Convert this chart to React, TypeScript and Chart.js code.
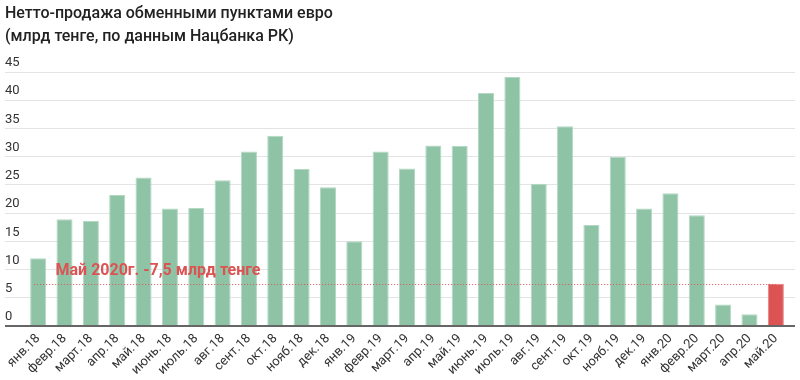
import React, { useEffect, useRef } from "react";
import { Chart, registerables } from "chart.js";

Chart.register(...registerables);

const titleLines = ["Нетто-продажа обменными пунктами евро", "(млрд тенге, по данным Нацбанка РК)"];
const categories = [
  "янв.18", "февр.18", "март.18", "апр.18", "май.18", "июнь.18", "июль.18", "авг.18", "сент.18", "окт.18", "нояб.18", "дек.18",
  "янв.19", "февр.19", "март.19", "апр.19", "май.19", "июнь.19", "июль.19", "авг.19", "сент.19", "окт.19", "нояб.19", "дек.19",
  "янв.20", "февр.20", "март.20", "апр.20", "май.20",
];
const values = [
  12.0, 18.9, 18.6, 23.2, 26.3, 20.8, 20.9, 25.8, 30.9, 33.7, 27.8, 24.6,
  15.0, 30.9, 27.9, 32.0, 31.9, 41.3, 44.1, 25.2, 35.4, 17.9, 30.0, 20.8,
  23.5, 19.6, 3.8, 2.1, 7.5,
];
const highlightIndex = 28;
const refValue = 7.5;
const refLabel = "Май 2020г. -7,5 млрд тенге";
const yMin = 0;
const yMax = 45;
const yStep = 5;

const GREEN = "#8fc3a6";
const GREEN_BORDER = "#b3d9c3";
const RED = "#dc5353";
const RED_BORDER = "#e88080";
const GRID = "#e4e4e4";
const AXIS = "#666666";

const refPlugin = {
  id: "refLine",
  afterDatasetsDraw(chart: any) {
    const { ctx, scales } = chart;
    const x = scales.x;
    const y = scales.y;
    const py = Math.round(y.getPixelForValue(refValue)) + 0.5;
    const x0 = x.getPixelForValue(0) - 4;
    const x1 = x.getPixelForValue(categories.length - 1);
    ctx.save();
    ctx.strokeStyle = RED;
    ctx.lineWidth = 1;
    ctx.setLineDash([1, 2]);
    ctx.beginPath();
    ctx.moveTo(x0, py);
    ctx.lineTo(x1, py);
    ctx.stroke();
    ctx.setLineDash([]);
    ctx.fillStyle = RED;
    ctx.font = "bold 16px Roboto";
    ctx.textAlign = "left";
    ctx.textBaseline = "alphabetic";
    ctx.fillText(refLabel, x.getPixelForValue(1) - 9, py - 10);
    ctx.restore();
  },
};

const gridColor = (c: any) => (c.tick && c.tick.value === 0 ? AXIS : GRID);
const gridWidth = (c: any) => (c.tick && c.tick.value === 0 ? 2 : 1);

export default function App() {
  const ref = useRef<HTMLCanvasElement | null>(null);
  useEffect(() => {
    if (!ref.current) return;
    const chart = new Chart(ref.current, {
      type: "bar",
      data: {
        labels: categories,
        datasets: [
          {
            data: values,
            backgroundColor: values.map((_, i) => (i === highlightIndex ? RED : GREEN)),
            borderColor: values.map((_, i) => (i === highlightIndex ? RED_BORDER : GREEN_BORDER)),
            borderWidth: 1,
            categoryPercentage: 1,
            barPercentage: 0.61,
          },
        ],
      },
      options: {
        animation: false,
        responsive: false,
        layout: { padding: { left: 5, right: 5, top: 0, bottom: 0 } },
        plugins: {
          legend: { display: false },
          tooltip: { enabled: false },
          title: {
            display: true,
            text: titleLines,
            align: "start",
            color: "#222222",
            font: { family: "Roboto", size: 16, weight: "500", lineHeight: 1.4375 },
            padding: { top: 2, bottom: 24 },
          },
        },
        scales: {
          x: {
            grid: { display: false, drawTicks: false },
            border: { display: false },
            ticks: {
              color: "#333333",
              font: { family: "Roboto", size: 13 },
              maxRotation: 45,
              minRotation: 45,
              autoSkip: false,
              padding: 5,
            },
            afterFit: (s: any) => {
              s.height = 54;
            },
          },
          y: {
            position: "left",
            min: yMin,
            max: yMax,
            border: { display: false },
            grid: { color: gridColor, lineWidth: gridWidth, tickLength: 20, drawTicks: true },
            ticks: {
              stepSize: yStep,
              color: "#333333",
              font: { family: "Roboto", size: 13 },
              crossAlign: "far",
              labelOffset: -9,
              padding: 0,
            },
            afterFit: (s: any) => {
              s.width = 20;
            },
          },
          y2: {
            position: "right",
            min: yMin,
            max: yMax,
            border: { display: false },
            grid: { color: gridColor, lineWidth: gridWidth, tickLength: 6, drawTicks: true, drawOnChartArea: false },
            ticks: { stepSize: yStep, display: false },
            afterFit: (s: any) => {
              s.width = 6;
            },
          },
        },
      },
      plugins: [refPlugin],
    } as any);
    return () => chart.destroy();
  }, []);
  return (
    <div style={{ position: "absolute", left: 0, top: 0, width: 800, height: 380, background: "#fff" }}>
      <canvas ref={ref} width={800} height={380} />
    </div>
  );
}
